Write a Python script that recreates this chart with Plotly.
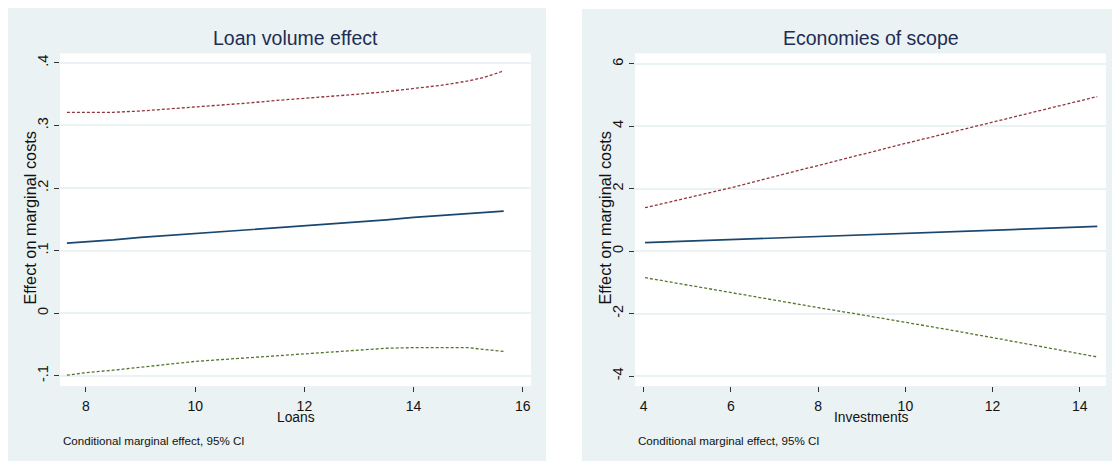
import plotly.graph_objects as go

W, H = 1112, 461

# ---------------- data ----------------
loans = [7.65, 8.0, 8.5, 9.0, 9.5, 10.0, 10.5, 11.0, 11.5, 12.0, 12.5, 13.0, 13.5, 14.0, 14.5, 15.0, 15.3, 15.65]
loan_effect = [0.112, 0.114, 0.117, 0.121, 0.124, 0.127, 0.130, 0.133, 0.137, 0.140, 0.143, 0.146, 0.149, 0.153, 0.156, 0.159, 0.161, 0.163]
loan_upper = [0.321, 0.321, 0.321, 0.323, 0.326, 0.329, 0.333, 0.336, 0.340, 0.343, 0.347, 0.350, 0.354, 0.359, 0.364, 0.371, 0.377, 0.387]
loan_lower = [-0.099, -0.095, -0.091, -0.086, -0.081, -0.077, -0.074, -0.071, -0.068, -0.065, -0.061, -0.058, -0.056, -0.055, -0.055, -0.055, -0.058, -0.061]

investments = [4.03, 5, 6, 7, 8, 9, 10, 11, 12, 13, 14, 14.4]
inv_effect = [0.27, 0.32, 0.37, 0.42, 0.47, 0.52, 0.57, 0.62, 0.67, 0.72, 0.77, 0.79]
inv_upper = [1.39, 1.70, 2.03, 2.39, 2.75, 3.10, 3.45, 3.79, 4.13, 4.46, 4.80, 4.95]
inv_lower = [-0.85, -1.09, -1.33, -1.57, -1.81, -2.04, -2.27, -2.52, -2.77, -3.02, -3.28, -3.39]

left_yticks = [-0.1, 0, 0.1, 0.2, 0.3, 0.4]
left_yticktext = ["-.1", "0", ".1", ".2", ".3", ".4"]
left_xticks = [8, 10, 12, 14, 16]
right_yticks = [-4, -2, 0, 2, 4, 6]
right_yticktext = ["-4", "-2", "0", "2", "4", "6"]
right_xticks = [4, 6, 8, 10, 12, 14]

titles = ["Loan volume effect", "Economies of scope"]
xtitles = ["Loans", "Investments"]
ytitle = "Effect on marginal costs"
note = "Conditional marginal effect, 95% CI"

# ---------------- style ----------------
NAVY = "#1a476f"
MAROON = "#90353b"
GREEN = "#55752f"
PANEL_BG = "#eaf2f3"
GRID = "#eaf2f3"
TITLE_C = "#1e2d55"
REG = "Liberation Sans, Arial, sans-serif"

def px_x(p):
    return p / W

def px_y(p):
    return 1 - p / H

fig = go.Figure()

def add_panel(x, mid, up, lo, xa, ya):
    fig.add_trace(go.Scatter(x=x, y=up, mode="lines", xaxis=xa, yaxis=ya,
                             line=dict(color=MAROON, width=1.3, dash="3px,2px"),
                             showlegend=False, hoverinfo="skip"))
    fig.add_trace(go.Scatter(x=x, y=mid, mode="lines", xaxis=xa, yaxis=ya,
                             line=dict(color=NAVY, width=1.7),
                             showlegend=False, hoverinfo="skip"))
    fig.add_trace(go.Scatter(x=x, y=lo, mode="lines", xaxis=xa, yaxis=ya,
                             line=dict(color=GREEN, width=1.3, dash="3px,2px"),
                             showlegend=False, hoverinfo="skip"))

add_panel(loans, loan_effect, loan_upper, loan_lower, "x", "y")
add_panel(investments, inv_effect, inv_upper, inv_lower, "x2", "y2")

PT, PB = 53.5, 386
ydom = [px_y(PB), px_y(PT)]
xaxis_common = dict(showgrid=False, zeroline=False, showline=False,
                    ticks="outside", ticklen=5, tickwidth=1, tickcolor="#333",
                    ticklabelstandoff=2,
                    tickfont=dict(family=REG, size=14, color="#111"),
                    automargin=False, fixedrange=True)
yaxis_common = dict(showgrid=True, gridcolor=GRID, gridwidth=1.5,
                    zeroline=False, showline=False,
                    ticks="outside", ticklen=5, tickwidth=1, tickcolor="#333",
                    tickangle=-90,
                    tickfont=dict(family=REG, size=14.5, color="#111"),
                    automargin=False, fixedrange=True)

fig.update_layout(
    width=W, height=H,
    margin=dict(l=0, r=0, t=0, b=0),
    paper_bgcolor="white", plot_bgcolor="white",
    template="none",
    showlegend=False,
    xaxis=dict(domain=[px_x(60), px_x(531)], range=[7.524, 16.15],
               tickvals=left_xticks, anchor="y", **xaxis_common),
    yaxis=dict(domain=ydom, range=[-0.1163, 0.4149],
               tickvals=left_yticks, ticktext=left_yticktext, anchor="x", **yaxis_common),
    xaxis2=dict(domain=[px_x(635), px_x(1106)], range=[3.80, 14.60],
                tickvals=right_xticks, anchor="y2", **xaxis_common),
    yaxis2=dict(domain=ydom, range=[-4.32, 6.33],
                tickvals=right_yticks, ticktext=right_yticktext, anchor="x2", **yaxis_common),
)

# panel backgrounds and white plot regions
fig.add_shape(type="rect", xref="paper", yref="paper",
              x0=px_x(8), x1=px_x(546), y0=px_y(461), y1=px_y(8),
              fillcolor=PANEL_BG, line=dict(width=0), layer="below")
fig.add_shape(type="rect", xref="paper", yref="paper",
              x0=px_x(582), x1=px_x(1112), y0=px_y(461), y1=px_y(9),
              fillcolor=PANEL_BG, line=dict(width=0), layer="below")
for x0, x1 in [(60, 531), (635, 1106)]:
    fig.add_shape(type="rect", xref="paper", yref="paper",
                  x0=px_x(x0), x1=px_x(x1), y0=px_y(PB), y1=px_y(PT),
                  fillcolor="white", line=dict(width=0), layer="below")

centers = [(60 + 531) / 2, (635 + 1106) / 2]
lefts = [60, 635]
for i in range(2):
    fig.add_annotation(text=titles[i], xref="paper", yref="paper",
                       x=px_x(centers[i]), y=px_y(38.5), xanchor="center", yanchor="middle",
                       showarrow=False, font=dict(family=REG, size=19.5, color=TITLE_C))
    fig.add_annotation(text=xtitles[i], xref="paper", yref="paper",
                       x=px_x(centers[i]), y=px_y(417.5), xanchor="center", yanchor="middle",
                       showarrow=False, font=dict(family=REG, size=13.8, color="#111"))
    fig.add_annotation(text=ytitle, xref="paper", yref="paper",
                       x=px_x(lefts[i] - 30.5), y=px_y(218), xanchor="center", yanchor="middle",
                       textangle=-90,
                       showarrow=False, font=dict(family=REG, size=16.3, color="#111"))
    fig.add_annotation(text=note, xref="paper", yref="paper",
                       x=px_x(lefts[i] + 0.5), y=px_y(440), xanchor="left", yanchor="middle",
                       showarrow=False, font=dict(family=REG, size=11.6, color="#111"))

fig.write_html("out.html", config={"displayModeBar": False},
               post_script="document.body.style.margin='0px';")
